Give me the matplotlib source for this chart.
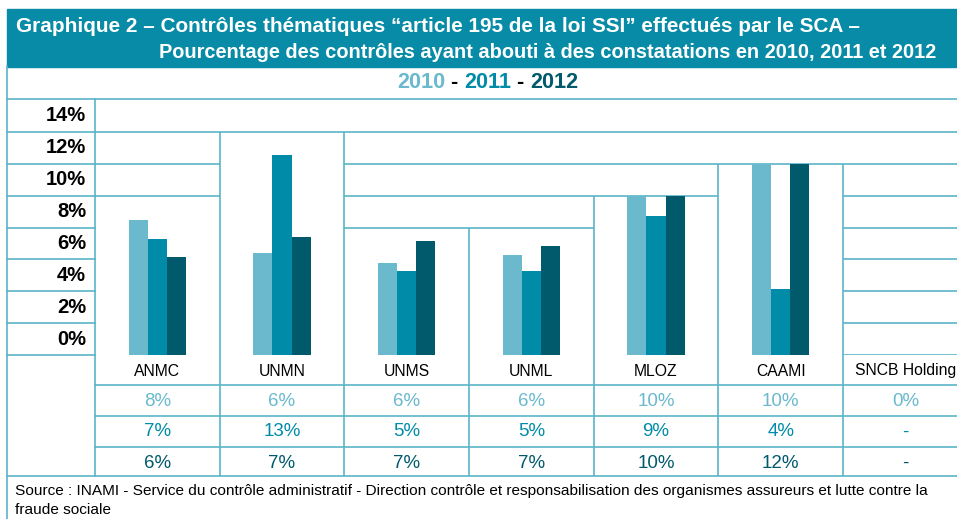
import matplotlib
matplotlib.use('Agg')
import matplotlib.pyplot as plt
from matplotlib.patches import Rectangle
from matplotlib.transforms import blended_transform_factory
import numpy as np

# data
categories = ['ANMC', 'UNMN', 'UNMS', 'UNML', 'MLOZ', 'CAAMI', 'SNCB Holding']
years = ['2010', '2011', '2012']
bars_2010 = [8.5, 6.4, 5.8, 6.3, 10.0, 12.0, 0]
bars_2011 = [7.3, 12.55, 5.3, 5.3, 8.7, 4.15, 0]
bars_2012 = [6.15, 7.4, 7.15, 6.85, 10.0, 12.0, 0]
table_2010 = ['8%', '6%', '6%', '6%', '10%', '10%', '0%']
table_2011 = ['7%', '13%', '5%', '5%', '9%', '4%', '-']
table_2012 = ['6%', '7%', '7%', '7%', '10%', '12%', '-']
ytick_values = [0, 2, 4, 6, 8, 10, 12, 14]

title_1 = 'Graphique 2 – Contrôles thématiques “article 195 de la loi SSI” effectués par le SCA –'
title_2 = 'Pourcentage des contrôles ayant abouti à des constatations en 2010, 2011 et 2012'
source_1 = ('Source : INAMI - Service du contrôle administratif - Direction contrôle et '
            'responsabilisation des organismes assureurs et lutte contre la')
source_2 = 'fraude sociale'

colors = ['#6ab9cc', '#008ca8', '#005a6c']
line_c = '#5ab4c8'
teal = '#078ba6'
lw = 1.2
sans = ['Liberation Sans', 'DejaVu Sans']

W, H = 957, 519
fig = plt.figure(figsize=(W / 100, H / 100), dpi=100)
renderer = fig.canvas.get_renderer()


def fit_width(t, target):
    # scale the font size so the text spans the target width in pixels
    w = t.get_window_extent(renderer).width
    t.set_fontsize(t.get_fontsize() * target / w)


# background axes in pixel units (y downwards) for the frame
bg = fig.add_axes([0, 0, 1, 1])
bg.set_xlim(0, W)
bg.set_ylim(H, 0)
bg.axis('off')

# bar axes: 0..16 % between y=355 and y=100, 7 columns from x=95
x0, col_w, y_base, y_top = 95, 124.67, 355, 100
ax = fig.add_axes([x0 / W, 1 - y_base / H, 7 * col_w / W, (y_base - y_top) / H])
ax.set_xlim(-0.5, 6.5)
ax.set_ylim(0, 16)
ax.axis('off')
ax.patch.set_alpha(0)

# title band
bg.add_patch(Rectangle((7, 9), W - 7, 57.5, color=teal, zorder=1))
t1 = bg.text(16, 26, title_1, color='white', fontsize=14, fontweight='bold', family=sans, va='center')
fit_width(t1, 844)
t2 = bg.text(159, 52, title_2, color='white', fontsize=14, fontweight='bold', family=sans, va='center')
fit_width(t2, 783)

# outer frame lines
bg.plot([7, 7], [66, H], color=line_c, lw=lw)
bg.plot([7, W], [99, 99], color=line_c, lw=lw)
bg.plot([7, W], [476, 476], color=line_c, lw=lw)
bg.plot([x0, x0], [99, 476], color=line_c, lw=lw)

# legend line
pieces = [('2010', colors[0]), (' - ', 'black'), ('2011', colors[1]), (' - ', 'black'), ('2012', colors[2])]
xpos = 397
for txt, c in pieces:
    t = bg.text(xpos, 83, txt, color=c, fontsize=15.6, fontweight='bold', family=sans, va='center')
    xpos += t.get_window_extent(renderer).width

# y labels column
ylab_tr = blended_transform_factory(bg.transData, ax.transData)
for v in ytick_values:
    y_px = y_base - v * (y_base - y_top) / 16
    bg.plot([7, x0], [y_px, y_px], color=line_c, lw=lw)
    ax.text(86, v + 1, f'{v}%', transform=ylab_tr,
            fontsize=14.5, fontweight='bold', family=sans, ha='right', va='center')

# gridlines per column, skipped below each column box
all_bars = np.array([bars_2010, bars_2011, bars_2012])
box_top = [int(np.ceil(m / 2.0) * 2) for m in all_bars.max(axis=0)]
for i in range(len(categories)):
    for v in ytick_values:
        if v >= box_top[i]:
            ax.hlines(v, i - 0.5, i + 0.5, color=line_c, lw=lw, zorder=1)
for i in range(len(categories) - 1):
    ax.vlines(i + 0.5, 0, max(box_top[i], box_top[i + 1]), color=line_c, lw=lw, zorder=1)

# bars
x = np.arange(len(categories))
bw = 0.153
for k, vals in enumerate([bars_2010, bars_2011, bars_2012]):
    ax.bar(x + (k - 1) * bw, vals, width=bw, color=colors[k], zorder=3)

# table below
tb = blended_transform_factory(ax.transData, bg.transData)
for yl in [385, 416, 447]:
    bg.plot([x0, W], [yl, yl], color=line_c, lw=lw)
for i in range(len(categories) - 1):
    ax.vlines(i + 0.5, 355, 476, color=line_c, lw=lw, transform=tb, clip_on=False)
rows = [table_2010, table_2011, table_2012]
for i, cat in enumerate(categories):
    ax.text(i, 371, cat, transform=tb, ha='center', va='center', fontsize=11.3, family=sans, color='black')
    for k, row in enumerate(rows):
        ax.text(i, 401 + 31 * k, row[i], transform=tb, ha='center', va='center', fontsize=13.5,
                family=sans, color=colors[k])

# source
s1 = bg.text(15, 491, source_1, fontsize=11, family=sans, va='center')
fit_width(s1, 910)
bg.text(15, 510, source_2, fontsize=s1.get_fontsize(), family=sans, va='center')

fig.savefig('out.png', dpi=100)
